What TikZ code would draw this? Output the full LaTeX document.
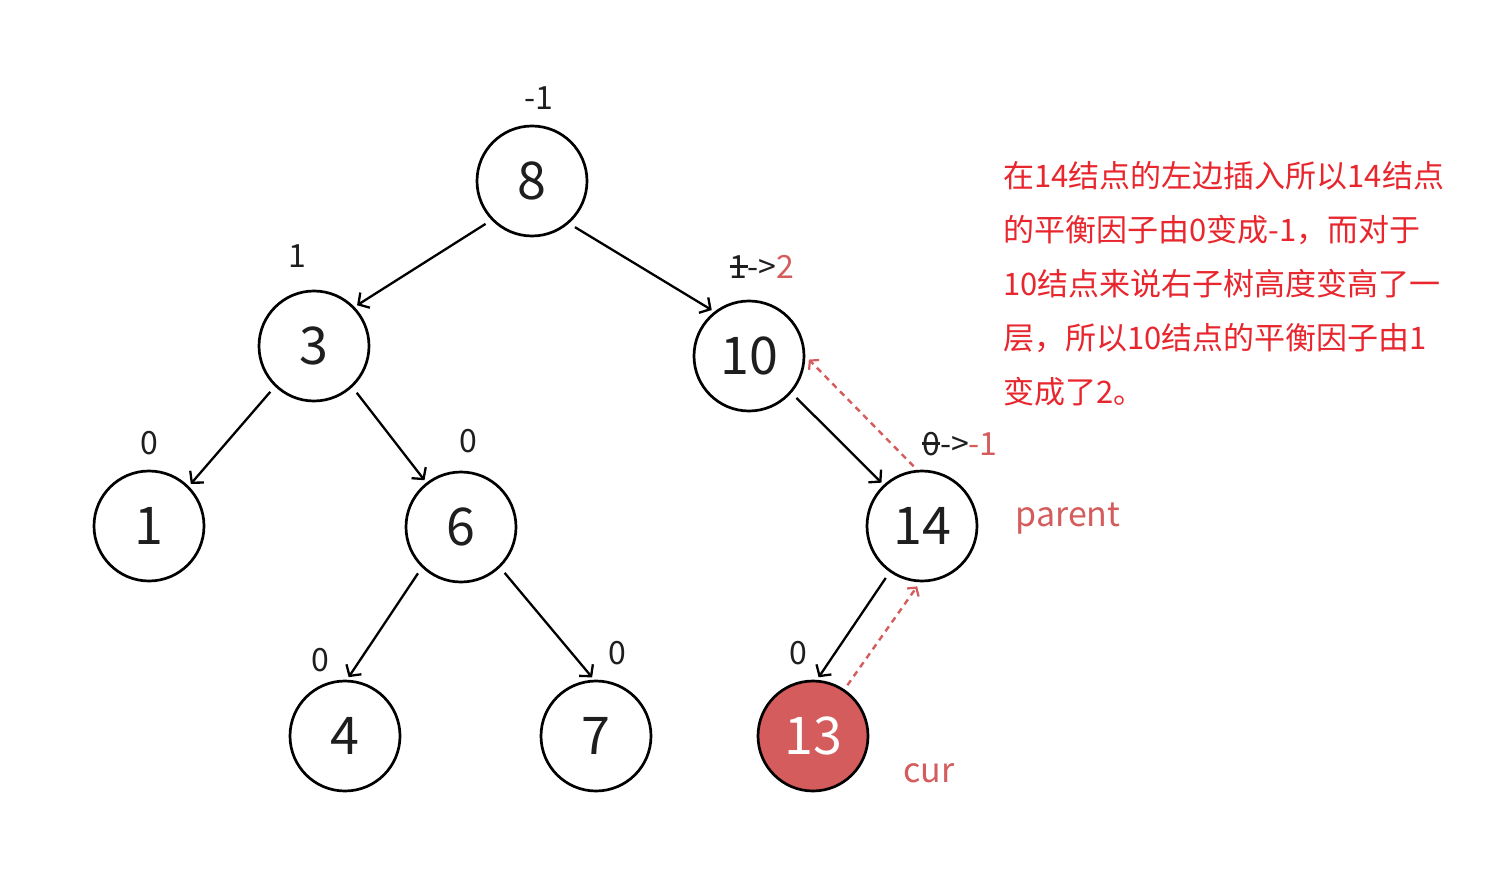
\documentclass[tikz,border=0pt]{standalone}
\usepackage{fontspec}
\setmainfont{Noto Sans CJK SC}
\usetikzlibrary{arrows.meta}

\definecolor{softred}{RGB}{212,92,92}
\definecolor{notered}{RGB}{232,38,46}
\definecolor{ink}{RGB}{30,30,30}

\newcommand\strk[1]{\sbox0{#1}\rlap{\rule[.34em]{\wd0}{.07em}}\usebox0}

\begin{document}
\begin{tikzpicture}[x=1pt, y=-1pt,
		tnode/.style={circle, draw=black, line width=2.7pt, minimum size=110pt, inner sep=0pt, text=ink, font=\fontsize{52}{52}\selectfont},
		curnode/.style={tnode, fill=softred, text=white},
		edge/.style={line width=2.3pt, -{Straight Barb[length=8pt, width=18pt, line width=2.3pt]}, shorten <=7pt, shorten >=3pt},
		trace/.style={draw=softred, line width=2.4pt, dash pattern=on 6pt off 5pt, -{Straight Barb[length=6pt, width=14pt, line width=2.2pt]}, shorten <=5pt, shorten >=5pt},
		bf/.style={font=\fontsize{32}{32}\selectfont, text=ink, inner sep=0pt},
		tag/.style={font=\fontsize{34}{34}\selectfont, text=softred, inner sep=0pt},
		note/.style={font=\fontsize{31}{54}\selectfont, text=notered, align=left, inner sep=0pt}
		]
		\useasboundingbox (0,0) rectangle (1512,890);
		
		% -------------------------------------------------
		% Tree nodes
		% -------------------------------------------------
		\node[tnode] (n8) at (532,181) {8};
		\node[tnode] (n3) at (314,346) {3};
		\node[tnode] (n10) at (749,356) {10};
		\node[tnode] (n1) at (149,526) {1};
		\node[tnode] (n6) at (461,527) {6};
		\node[tnode] (n14) at (922,526) {14};
		\node[tnode] (n4) at (345,736) {4};
		\node[tnode] (n7) at (596,736) {7};
		\node[curnode] (n13) at (813,736) {13};
		
		% -------------------------------------------------
		% Edges
		% -------------------------------------------------
		\draw[edge] (n8.224) -- (n3.44);
		\draw[edge] (n8.-49) -- (n10.128);
		\draw[edge] (n3.226) -- (n1.45);
		\draw[edge] (n3.-47) -- (n6.128);
		\draw[edge] (n10.-41) -- (n14.133);
		\draw[edge] (n6.226) -- (n4.88);
		\draw[edge] (n6.-46) -- (n7.92);
		\draw[edge] (n14.235) -- (n13.86);
		
		% update path
		\draw[trace] (n13.56) -- (n14.-92);
		\draw[trace] (n14.95) -- (n10.0);
		
		% -------------------------------------------------
		% Balance factors
		% -------------------------------------------------
		\node[bf] (bf8) at (539,98) {-1};
		\node[bf] (bf3) at (297,256) {1};
		\node[bf] (bf10) at (762,267) {\strk{1}->\textcolor{softred}{2}};
		\node[bf] (bf1) at (149,443) {0};
		\node[bf] (bf6) at (468,441) {0};
		\node[bf] (bf14) at (960,444) {\strk{0}->\textcolor{softred}{-1}};
		\node[bf] (bf4) at (320,660) {0};
		\node[bf] (bf7) at (617,653) {0};
		\node[bf] (bf13) at (798,653) {0};
		
		% -------------------------------------------------
		% Pointers and note
		% -------------------------------------------------
		\node[tag] (parent) at (1068,519) {parent};
		\node[tag] (cur) at (929,773) {cur};
		
		\node[note, anchor=north west] (expl) at (1003,161) {
			在14结点的左边插入所以14结点\\
			的平衡因子由0变成-1，而对于\\
			10结点来说右子树高度变高了一\\
			层，所以10结点的平衡因子由1\\
			变成了2。};
		
	\end{tikzpicture}
\end{document}
